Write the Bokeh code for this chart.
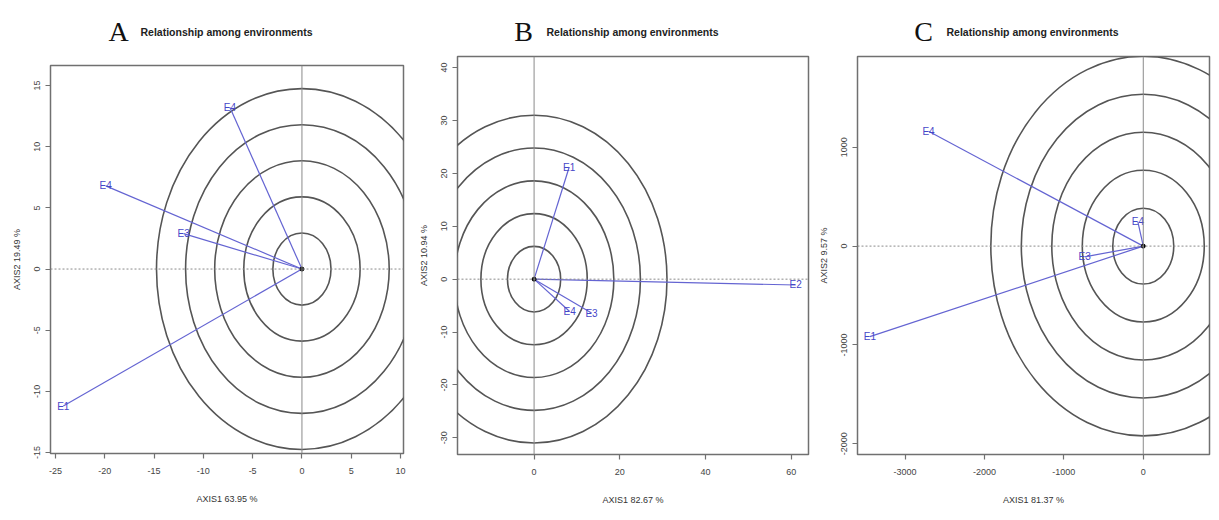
from bokeh.plotting import figure
from bokeh.layouts import row, column
from bokeh.models import FixedTicker, Range1d, Span
from bokeh.embed import file_html
from bokeh.resources import INLINE
from bokeh.core.properties import value

TITLE_TEXT = "Relationship among environments"

# ---- Panel A data ----
a_letter = "A"
a_env = ["E4", "E4", "E3", "E1"]
a_x = [-7.3, -19.9, -12.0, -24.2]
a_y = [13.2, 6.8, 2.9, -11.2]
a_radii = [2.95, 5.9, 8.85, 11.8, 14.75]
a_xticks = [-25, -20, -15, -10, -5, 0, 5, 10]
a_yticks = [-15, -10, -5, 0, 5, 10, 15]
a_xlabel = "AXIS1 63.95 %"
a_ylabel = "AXIS2 19.49 %"

# ---- Panel B data ----
b_letter = "B"
b_env = ["E1", "E2", "E4", "E3"]
b_x = [8.2, 61.0, 8.3, 13.4]
b_y = [21.2, -1.1, -6.1, -6.4]
b_radii = [6.2, 12.4, 18.6, 24.8, 31.0]
b_xticks = [0, 20, 40, 60]
b_yticks = [-30, -20, -10, 0, 10, 20, 30, 40]
b_xlabel = "AXIS1 82.67 %"
b_ylabel = "AXIS2 10.94 %"

# ---- Panel C data ----
c_letter = "C"
c_env = ["E4", "E4", "E3", "E1"]
c_x = [-2704, -68, -738, -3443]
c_y = [1162, 245, -108, -916]
c_radii = [384, 768, 1152, 1536, 1920]
c_xticks = [-3000, -2000, -1000, 0]
c_yticks = [-2000, -1000, 0, 1000]
c_xlabel = "AXIS1 81.37 %"
c_ylabel = "AXIS2 9.57 %"

FONT = "Liberation Sans"
BLUE_LINE = "#6464d2"
BLUE_TEXT = "#4646c8"
GRAY = "#555555"
STRIP_H = 52
H = 520


def panel(env, xs, ys, radii, xticks, yticks, xlabel, ylabel,
          xr, yr, width, bl, br, bt, bb):
    p = figure(width=width, height=H - STRIP_H, x_range=Range1d(*xr), y_range=Range1d(*yr),
               output_backend="svg", toolbar_location=None,
               min_border_left=bl, min_border_right=br, min_border_top=bt, min_border_bottom=bb)
    p.grid.visible = False
    p.background_fill_color = "white"
    p.border_fill_color = "white"
    p.outline_line_color = "#707070"
    p.outline_line_width = 1.5

    for ax, ticks in ((p.xaxis[0], xticks), (p.yaxis[0], yticks)):
        ax.ticker = FixedTicker(ticks=ticks)
        ax.major_label_overrides = {t: str(t) for t in ticks}
        ax.axis_line_color = None
        ax.major_tick_line_color = "#707070"
        ax.major_tick_line_width = 1.2
        ax.major_tick_out = 5
        ax.major_tick_in = 0
        ax.minor_tick_line_color = None
        ax.major_label_text_font = FONT
        ax.major_label_text_font_size = "9px"
        ax.major_label_text_color = "#444444"
        ax.axis_label_text_font = FONT
        ax.axis_label_text_font_size = "9px"
        ax.axis_label_text_font_style = "normal"
        ax.axis_label_text_color = "#333333"
    p.xaxis.axis_label = xlabel
    p.yaxis.axis_label = ylabel
    p.xaxis.major_label_standoff = 9
    p.xaxis.axis_label_standoff = 17
    p.yaxis.major_label_orientation = "vertical"
    p.yaxis.major_label_standoff = 5
    p.yaxis.axis_label_standoff = 10

    # reference lines through origin
    p.add_layout(Span(location=0, dimension="height", line_color="#8a8a8a", line_width=1))
    p.add_layout(Span(location=0, dimension="width", line_color="#8a8a8a", line_width=1,
                      line_dash="2 2"))

    # concentric circles
    n = len(radii)
    p.ellipse(x=[0] * n, y=[0] * n, width=[2 * r for r in radii], height=[2 * r for r in radii],
              fill_color=None, line_color=GRAY, line_width=1.6)

    # environment vectors
    m = len(xs)
    p.segment(x0=[0] * m, y0=[0] * m, x1=xs, y1=ys, line_color=BLUE_LINE, line_width=1.2)
    p.text(x=xs, y=ys, text=env, text_font=value(FONT), text_font_size="10px",
           text_color=BLUE_TEXT, text_align="center", text_baseline="middle")
    p.scatter(x=[0], y=[0], size=4, color="black")
    return p


def heading(letter, width, bl, br, letter_x, title_x, title_y):
    # the heading frame is aligned with the panel frame below it (bl .. width-br),
    # so its x range is expressed in figure pixels
    t = figure(width=width, height=STRIP_H, x_range=Range1d(bl, width - br),
               y_range=Range1d(STRIP_H, 0),
               output_backend="svg", toolbar_location=None,
               x_axis_location=None, y_axis_location=None,
               min_border_left=bl, min_border_right=br, min_border_top=0, min_border_bottom=0)
    t.grid.visible = False
    t.outline_line_color = None
    t.background_fill_color = "white"
    t.border_fill_color = "white"
    t.text(x=[letter_x], y=[title_y], text=[letter], text_font=value("Liberation Serif"),
           text_font_size="28px", text_align="center", text_baseline="middle", text_color="#111111")
    t.text(x=[title_x], y=[title_y], text=[TITLE_TEXT], text_font=value(FONT),
           text_font_size="10.5px", text_font_style="bold", text_align="left",
           text_baseline="middle", text_color="#222222")
    return t


pa = panel(a_env, a_x, a_y, a_radii, a_xticks, a_yticks, a_xlabel, a_ylabel,
           (-25.5, 10.3), (-15.08, 16.64), 406, 50, 3, 65 - STRIP_H, 67)
pb = panel(b_env, b_x, b_y, b_radii, b_xticks, b_yticks, b_xlabel, b_ylabel,
           (-17.86, 64.0), (-33.15, 42.1), 406, 51, 4, 56 - STRIP_H, 66)
pc = panel(c_env, c_x, c_y, c_radii, c_xticks, c_yticks, c_xlabel, c_ylabel,
           (-3599, 834), (-2108, 1918), 407, 45, 10, 56 - STRIP_H, 66)

ha = heading(a_letter, 406, 50, 3, 118, 140, 31)
hb = heading(b_letter, 406, 51, 4, 117, 140, 31)
hc = heading(c_letter, 407, 45, 10, 111, 134, 31)

layout = row(column(ha, pa, spacing=0), column(hb, pb, spacing=0), column(hc, pc, spacing=0),
             spacing=0)
open("out.html", "w").write(file_html(layout, INLINE))
